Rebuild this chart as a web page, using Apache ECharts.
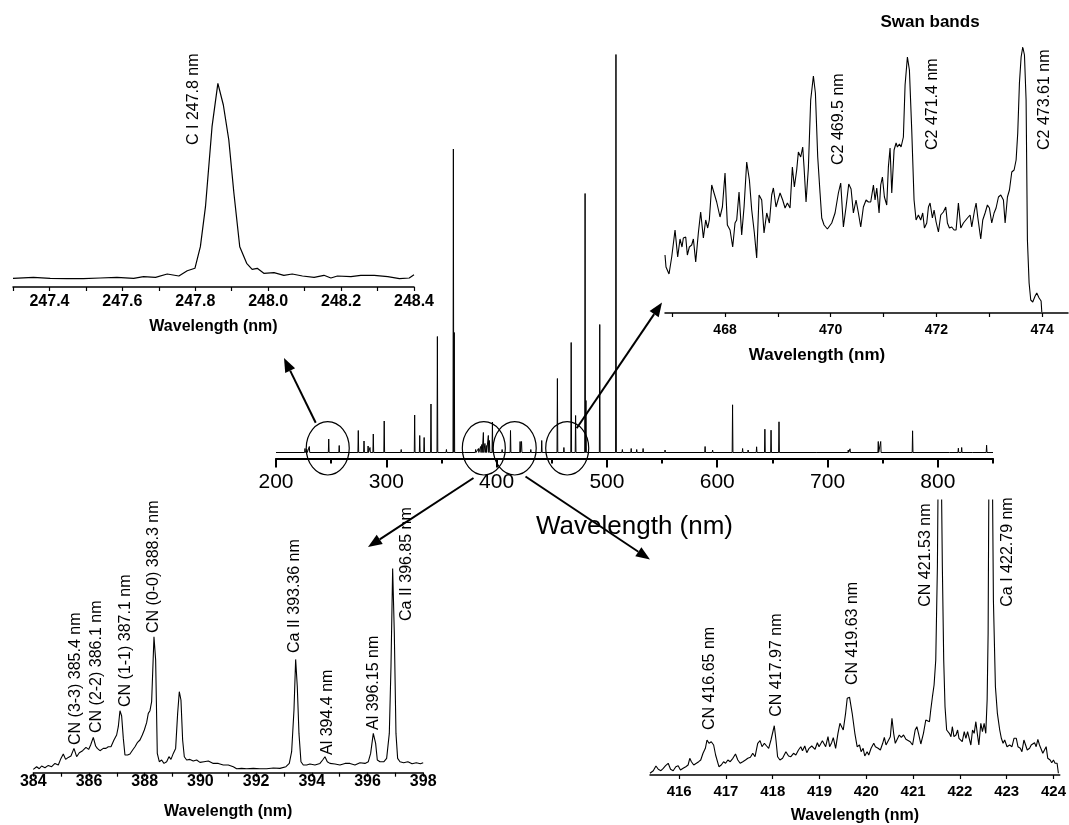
<!DOCTYPE html>
<html>
<head>
<meta charset="utf-8">
<title>LIBS spectrum with insets</title>
<script src="https://cdn.jsdelivr.net/npm/echarts@6/dist/echarts.min.js"></script>
<style>
  html, body { margin: 0; padding: 0; background: #fff; }
  #chart { width: 1069px; height: 825px; }
</style>
</head>
<body>
<div id="chart"></div>
<script>
const FONT = "'Liberation Sans', Arial, sans-serif"

// full spectrum 200-850 nm: emission lines and their height above the baseline (a.u.)
const mainPeakNm = [226.3, 228.0, 230.2, 247.8, 257.3, 274.6, 279.8, 283.5, 285.2, 288.2, 298.1, 313.5, 325.7, 330.3, 334.3, 340.5, 346.3, 354.5, 360.8, 361.6, 371.0, 381.0, 383.5, 385.5, 386.6, 388.0, 389.4, 390.6, 392.5, 393.5, 396.2, 405.0, 412.6, 421.3, 422.6, 431.0, 440.9, 455.1, 461.0, 467.6, 471.6, 480.2, 481.0, 493.5, 508.2, 514.0, 522.0, 527.0, 532.8, 552.7, 589.0, 595.8, 613.9, 623.0, 628.0, 635.7, 643.2, 648.8, 656.0, 690.0, 718.8, 720.4, 746.0, 748.2, 777.1, 811.0, 818.6, 821.6, 832.0, 844.2]
const mainPeakInt = [4, 3, 6, 13.5, 7, 22, 11.5, 6.5, 5, 18.5, 31.5, 3, 37.5, 17, 15, 48.5, 116, 3, 303.5, 120, 2, 3, 4, 6, 8, 20, 9, 7, 17, 12, 30.5, 3, 22, 11, 11, 3, 12, 74, 5, 110, 37, 259, 52, 128, 398, 3, 4, 3, 4, 2.5, 6, 2.5, 47.7, 4, 2.5, 5.7, 23.3, 22.3, 30.7, 2, 2.5, 3.7, 11, 11, 21.7, 2, 4.3, 5, 2, 7.3]
const mainBaseline = 6
const mainMajorTicks = [200, 300, 400, 500, 600, 700, 800]
const mainMinorTicks = [250, 350, 450, 550, 650, 750, 850]
// ellipses drawn round the zoomed regions (nm)
const circledNm = [246.9, 388.4, 416.4, 464.0]

// inset: C I 247.8 nm
const c1Nm = [247.300, 247.356, 247.402, 247.448, 247.493, 247.539, 247.585, 247.631, 247.658, 247.691, 247.723, 247.755, 247.778, 247.799, 247.814, 247.828, 247.846, 247.862, 247.877, 247.892, 247.906, 247.922, 247.941, 247.956, 247.970, 247.988, 248.016, 248.043, 248.066, 248.094, 248.126, 248.153, 248.172, 248.190, 248.227, 248.254, 248.291, 248.328, 248.360, 248.387, 248.400]
const c1Int = [8.7, 9.7, 8.7, 8.3, 8.3, 9, 9.7, 8.7, 10.3, 9.7, 13, 11, 16.3, 18.7, 40.3, 80.3, 160.3, 203.7, 182, 147, 93.7, 40.3, 23.7, 17.7, 18.7, 13.7, 14.3, 11.7, 13, 11, 9.7, 11.7, 9, 11, 10.3, 11.7, 11.7, 10.3, 8.3, 9, 12.3]
const c1Ticks = [247.3, 247.4, 247.5, 247.6, 247.7, 247.8, 247.9, 248.0, 248.1, 248.2, 248.3, 248.4]
const c1TickLabels = [247.4, 247.6, 247.8, 248.0, 248.2, 248.4]

// inset: Swan bands
const swanNm = [466.864, 466.883, 466.940, 466.991, 467.054, 467.104, 467.148, 467.186, 467.211, 467.256, 467.287, 467.325, 467.369, 467.401, 467.445, 467.495, 467.539, 467.590, 467.634, 467.672, 467.703, 467.748, 467.792, 467.842, 467.905, 467.950, 468.000, 468.044, 468.095, 468.145, 468.189, 468.221, 468.265, 468.315, 468.360, 468.410, 468.461, 468.505, 468.555, 468.599, 468.644, 468.694, 468.738, 468.789, 468.839, 468.883, 468.915, 468.965, 469.003, 469.041, 469.091, 469.136, 469.180, 469.230, 469.274, 469.312, 469.356, 469.388, 469.432, 469.470, 469.495, 469.533, 469.577, 469.621, 469.672, 469.710, 469.754, 469.798, 469.830, 469.874, 469.937, 470.019, 470.082, 470.145, 470.189, 470.240, 470.290, 470.341, 470.385, 470.429, 470.479, 470.524, 470.568, 470.618, 470.669, 470.713, 470.757, 470.808, 470.839, 470.871, 470.915, 470.946, 470.978, 471.016, 471.060, 471.091, 471.123, 471.155, 471.199, 471.237, 471.262, 471.300, 471.331, 471.375, 471.407, 471.451, 471.489, 471.533, 471.577, 471.615, 471.659, 471.703, 471.741, 471.773, 471.817, 471.849, 471.880, 471.924, 471.956, 471.994, 472.038, 472.082, 472.132, 472.177, 472.208, 472.246, 472.290, 472.334, 472.372, 472.416, 472.461, 472.511, 472.543, 472.587, 472.637, 472.669, 472.719, 472.751, 472.782, 472.839, 472.877, 472.921, 472.965, 473.003, 473.047, 473.091, 473.129, 473.174, 473.218, 473.268, 473.300, 473.344, 473.382, 473.426, 473.470, 473.508, 473.539, 473.571, 473.603, 473.634, 473.666, 473.697, 473.722, 473.754, 473.785, 473.823, 473.868, 473.899, 473.943, 473.981, 473.994]
const swanInt = [58, 46, 39, 56, 83, 56, 74, 66, 75, 76, 58, 66, 68, 74, 51, 80, 101, 75, 93, 85, 93, 128, 120, 111, 96, 106, 140, 88, 83, 66, 90, 93, 121, 78, 106, 151, 133, 103, 80, 55, 118, 113, 80, 100, 90, 118, 125, 106, 113, 120, 113, 105, 110, 105, 146, 126, 143, 161, 156, 166, 146, 111, 145, 213, 237, 220, 156, 120, 95, 88, 84, 90, 100, 120, 130, 86, 106, 129, 124, 100, 113, 100, 86, 106, 113, 111, 111, 128, 113, 125, 100, 128, 136, 116, 108, 146, 165, 120, 163, 170, 166, 169, 166, 176, 228, 256, 243, 183, 113, 93, 98, 93, 100, 85, 90, 106, 110, 95, 103, 91, 81, 98, 101, 106, 90, 85, 86, 83, 83, 110, 85, 90, 88, 95, 98, 86, 102, 110, 96, 74, 93, 100, 108, 105, 90, 100, 105, 116, 118, 113, 90, 116, 123, 141, 143, 153, 180, 230, 256, 266, 258, 213, 73, 30, 13, 11, 17, 20, 15, 12, 1]
const swanTicks = [467, 468, 469, 470, 471, 472, 473, 474]
const swanTickLabels = [468, 470, 472, 474]

// inset: CN violet system 384-398 nm
const cnNm = [384.000, 384.120, 384.215, 384.299, 384.419, 384.539, 384.658, 384.778, 384.898, 384.993, 385.077, 385.161, 385.257, 385.352, 385.460, 385.556, 385.652, 385.771, 385.891, 385.987, 386.059, 386.154, 386.238, 386.298, 386.394, 386.513, 386.609, 386.693, 386.789, 386.896, 386.992, 387.052, 387.112, 387.172, 387.232, 387.291, 387.387, 387.471, 387.567, 387.651, 387.734, 387.830, 387.914, 387.986, 388.069, 388.129, 388.189, 388.249, 388.333, 388.393, 388.452, 388.524, 388.608, 388.692, 388.788, 388.871, 388.943, 389.027, 389.111, 389.183, 389.242, 389.302, 389.362, 389.422, 389.506, 389.625, 389.745, 389.865, 389.984, 390.128, 390.284, 390.463, 390.643, 390.822, 391.002, 391.181, 391.301, 391.481, 391.660, 391.899, 392.139, 392.378, 392.618, 392.857, 393.072, 393.192, 393.276, 393.360, 393.420, 393.479, 393.539, 393.611, 393.695, 393.815, 393.934, 394.114, 394.293, 394.389, 394.473, 394.556, 394.652, 394.832, 395.011, 395.191, 395.370, 395.550, 395.730, 395.909, 396.029, 396.113, 396.208, 396.292, 396.352, 396.448, 396.591, 396.687, 396.783, 396.843, 396.903, 396.963, 397.022, 397.082, 397.166, 397.300, 397.450, 397.600, 397.750, 397.900, 398.000]
const cnInt = [3.3, 6, 4, 6.7, 5, 7.3, 6, 9.3, 7.7, 14.3, 18.7, 13.3, 15.3, 16.7, 24.3, 16, 20, 22, 25.3, 23.3, 27.7, 35.3, 26.7, 24.3, 22, 24.3, 24.3, 26, 26, 32.7, 37.7, 46, 62, 56.7, 34.3, 17.7, 17.7, 18.7, 22.7, 26, 30, 32.7, 37.7, 42.7, 50, 59.3, 62, 71, 136, 112.7, 19.3, 11, 12.7, 9.3, 11, 16, 13.3, 19.3, 24.3, 59.3, 81, 72.7, 32.7, 16, 12.7, 13.3, 11.7, 12.7, 10.3, 11, 11.7, 9.3, 9.3, 7.7, 7.7, 6, 4, 4.3, 4, 4.3, 4, 4, 4.7, 4.3, 6, 9.3, 21, 62.7, 113.3, 86, 39.3, 11, 7.7, 7.7, 8.7, 7.7, 9.3, 12.7, 16, 11, 9.3, 8.7, 7.7, 9.3, 9.3, 7.7, 10, 9.3, 11, 19.3, 39.3, 29.3, 12.7, 11, 11, 14.3, 39.3, 106, 204.3, 139.3, 39.3, 14.3, 11, 10, 11, 9, 10, 9, 10]
const cnTicks = [384, 385, 386, 387, 388, 389, 390, 391, 392, 393, 394, 395, 396, 397, 398]
const cnTickLabels = [384, 386, 388, 390, 392, 394, 396, 398]

// inset: CN / Ca I 415.4-424.1 nm (two strongest lines run off the top)
const caNm = [415.377, 415.447, 415.504, 415.554, 415.610, 415.660, 415.710, 415.766, 415.816, 415.872, 415.929, 415.979, 416.028, 416.085, 416.142, 416.191, 416.227, 416.262, 416.312, 416.368, 416.418, 416.461, 416.510, 416.560, 416.595, 416.638, 416.687, 416.737, 416.779, 416.815, 416.850, 416.900, 416.949, 416.992, 417.041, 417.091, 417.148, 417.204, 417.254, 417.304, 417.360, 417.417, 417.467, 417.523, 417.573, 417.622, 417.679, 417.729, 417.771, 417.821, 417.870, 417.913, 417.962, 418.012, 418.033, 418.069, 418.104, 418.154, 418.210, 418.281, 418.338, 418.388, 418.444, 418.494, 418.550, 418.600, 418.636, 418.685, 418.728, 418.777, 418.834, 418.869, 418.905, 418.954, 418.990, 419.025, 419.061, 419.096, 419.131, 419.181, 419.216, 419.259, 419.294, 419.344, 419.394, 419.436, 419.471, 419.507, 419.557, 419.592, 419.642, 419.698, 419.755, 419.804, 419.854, 419.889, 419.932, 419.967, 420.017, 420.052, 420.102, 420.159, 420.194, 420.251, 420.300, 420.350, 420.385, 420.421, 420.463, 420.513, 420.548, 420.584, 420.619, 420.655, 420.704, 420.747, 420.796, 420.846, 420.888, 420.938, 420.988, 421.044, 421.080, 421.115, 421.165, 421.221, 421.271, 421.306, 421.349, 421.377, 421.413, 421.448, 421.484, 421.519, 421.540, 421.597, 421.625, 421.654, 421.682, 421.717, 421.753, 421.774, 421.809, 421.838, 421.873, 421.916, 421.951, 421.980, 422.022, 422.050, 422.093, 422.128, 422.164, 422.199, 422.234, 422.270, 422.305, 422.341, 422.376, 422.405, 422.447, 422.482, 422.518, 422.553, 422.582, 422.603, 422.624, 422.688, 422.716, 422.759, 422.801, 422.851, 422.886, 422.922, 422.957, 423.007, 423.063, 423.113, 423.156, 423.205, 423.241, 423.290, 423.326, 423.368, 423.404, 423.439, 423.489, 423.524, 423.559, 423.595, 423.630, 423.666, 423.701, 423.737, 423.772, 423.807, 423.843, 423.878, 423.928, 423.963, 423.999, 424.034, 424.077, 424.105]
const caInt = [1.7, 4.3, 9, 5.7, 4.3, 6.7, 9.3, 11.7, 5.7, 4.3, 8.3, 9.3, 5, 6.7, 8.3, 10, 16.7, 13.3, 10, 11.7, 13.3, 15, 21.7, 26.7, 35, 31.7, 33.3, 30, 20, 21.7, 8.3, 10, 13.3, 11.7, 15, 13.3, 16.7, 21, 15, 11.7, 13.3, 15, 16.7, 17.7, 21.7, 18.3, 31.7, 34.3, 28.3, 31.7, 29, 26.7, 35, 45, 49.3, 35, 18.3, 15, 16.7, 23.3, 19, 18.3, 21.7, 20, 25, 28.3, 24.3, 29, 22.3, 26.7, 29, 31, 25.7, 32.3, 28.3, 30, 34.3, 32.3, 28.3, 38.3, 28.3, 32.3, 37.3, 26.7, 41.7, 51.7, 53.3, 45, 61.7, 76.7, 77.7, 61.7, 41.7, 28.3, 30, 23.3, 26.7, 19, 23.3, 20, 26.7, 31.7, 28.3, 26.7, 25, 31.7, 37.7, 30, 28.3, 38.3, 56.7, 41.7, 31.7, 30, 40, 37.7, 40, 35.7, 36.7, 33.3, 30, 45, 48.3, 41.7, 31, 41.7, 55, 56.7, 53.3, 65, 78.3, 90, 115, 208.3, 330, 330, 208.3, 115, 68.3, 45, 46.7, 41.7, 38.3, 48.3, 38.3, 40, 45, 36.7, 38.3, 33.3, 43.3, 36.7, 43.3, 45, 30, 45, 41.7, 53.3, 40, 30, 51.7, 43.3, 51.7, 41.7, 75, 141.7, 340, 340, 175, 88.3, 61.7, 45, 36.7, 31.7, 35, 28.3, 30, 28.3, 36.7, 36.7, 28.3, 26.7, 23.3, 35, 30, 25, 26.7, 30, 31.7, 32.3, 28.3, 35.7, 30, 28.3, 21.7, 21, 28.3, 16.7, 15, 12.3, 15, 11.7, 11.7, 1.7]
const caTicks = [416, 417, 418, 419, 420, 421, 422, 423, 424]

// line identifications: [text, nm, intensity at the foot of the text]
const c1Labels = [["C I 247.8 nm", 247.795, 142]]
const swanLabels = [["C2 469.5 nm", 470.145, 148], ["C2 471.4 nm", 471.931, 163], ["C2 473.61 nm", 474.044, 163]]
const cnLabels = [
  ["CN (3-3) 385.4 nm", 385.53, 27.7], ["CN (2-2) 386.1 nm", 386.28, 39.7],
  ["CN (1-1) 387.1 nm", 387.33, 65.7], ["CN (0-0) 388.3 nm", 388.33, 139.7],
  ["Ca II 393.36 nm", 393.40, 119.7], ["Al 394.4 nm", 394.58, 17.7],
  ["Al 396.15 nm", 396.23, 42.7], ["Ca II 396.85 nm", 397.42, 151.7],
]
const caLabels = [
  ["CN 416.65 nm", 416.653, 45], ["CN 417.97 nm", 418.083, 58.3], ["CN 419.63 nm", 419.698, 90],
  ["CN 421.53 nm", 421.258, 168.3], ["Ca I 422.79 nm", 423.029, 168.3],
]

const zip = (xs, ys) => xs.map((x, i) => [x, ys[i]])

// each line of the survey spectrum drawn as a narrow spike on the baseline
function spikes() {
  const pts = [[200, mainBaseline]]
  mainPeakNm.forEach((nm, i) => {
    pts.push([nm - 0.35, mainBaseline], [nm, mainBaseline + mainPeakInt[i]], [nm + 0.35, mainBaseline])
  })
  pts.push([850, mainBaseline])
  return pts
}

const black = "#000"
function insetX(gridIndex, min, max, ticks, labels, o) {
  return {
    type: "value", gridIndex, min, max,
    axisLine: { lineStyle: { color: black, width: 1.5 } },
    axisTick: { customValues: ticks, length: 4, lineStyle: { color: black, width: 1.2 } },
    axisLabel: {
      customValues: labels, margin: o.margin, fontSize: o.fontSize, fontWeight: "bold",
      color: black, fontFamily: FONT, formatter: o.formatter || (v => String(v)),
    },
    splitLine: { show: false },
    name: o.name === false ? "" : "Wavelength (nm)",
    nameLocation: "middle", nameGap: o.nameGap,
    nameTextStyle: { fontSize: 16, fontWeight: "bold", color: black, fontFamily: FONT },
  }
}
const hiddenY = (gridIndex, max) => ({ type: "value", gridIndex, min: 0, max, show: false })
const lineSeries = (x, y, data, w) => ({
  type: "line", xAxisIndex: x, yAxisIndex: y, data, symbol: "none",
  lineStyle: { color: black, width: w || 1.1 }, animation: false, silent: true,
})

const chart = echarts.init(document.getElementById("chart"))
chart.setOption({
  backgroundColor: "#fff",
  animation: false,
  grid: [
    { left: 276, top: 40, width: 717, height: 418.5 },   // survey spectrum
    { left: 13, top: 60, width: 401, height: 227 },      // C I
    { left: 665, top: 20, width: 403, height: 293 },     // Swan
    { left: 33.3, top: 492.7, width: 389.9, height: 280 }, // CN 384-398
    { left: 650, top: 500, width: 412, height: 275 },    // 415-424
  ],
  xAxis: [
    {
      type: "value", gridIndex: 0, min: 200, max: 850,
      axisLine: { lineStyle: { color: black, width: 2 } },
      axisTick: { customValues: mainMajorTicks, length: 9, lineStyle: { color: black, width: 2 } },
      axisLabel: { customValues: mainMajorTicks, margin: 13, fontSize: 21, color: black, fontFamily: FONT },
      splitLine: { show: false },
      name: "Wavelength (nm)", nameLocation: "middle", nameGap: 55,
      nameTextStyle: { fontSize: 26, color: black, fontFamily: FONT },
    },
    {
      type: "value", gridIndex: 0, min: 200, max: 850, position: "bottom",
      axisLine: { show: false },
      axisTick: { customValues: mainMinorTicks, length: 5, lineStyle: { color: black, width: 2 } },
      axisLabel: { show: false }, splitLine: { show: false },
    },
    insetX(1, 247.3, 248.4, c1Ticks, c1TickLabels, { margin: 7, fontSize: 16, nameGap: 32, formatter: v => v.toFixed(1) }),
    insetX(2, 466.864, 474.49, swanTicks, swanTickLabels, { margin: 10, fontSize: 14, name: false }),
    insetX(3, 384, 398, cnTicks, cnTickLabels, { margin: 1, fontSize: 16, nameGap: 31 }),
    insetX(4, 415.377, 424.134, caTicks, caTicks, { margin: 9, fontSize: 15, nameGap: 33 }),
  ],
  yAxis: [hiddenY(0, 418.5), hiddenY(1, 227), hiddenY(2, 293), hiddenY(3, 280), hiddenY(4, 275)],
  series: [
    lineSeries(0, 0, spikes(), 1),
    lineSeries(2, 1, zip(c1Nm, c1Int), 1.2),
    lineSeries(3, 2, zip(swanNm, swanInt), 1.1),
    lineSeries(4, 3, zip(cnNm, cnInt), 1.1),
    lineSeries(5, 4, zip(caNm, caInt), 1.1),
  ],
})

// annotations: rotated line names, ellipses, arrows
function vText(text, p) {
  return {
    type: "text", x: p[0], y: p[1], rotation: Math.PI / 2, silent: true,
    style: { text, fontSize: 16, fontFamily: FONT, fill: black, textAlign: "left", textVerticalAlign: "middle" },
  }
}
function arrow(x1, y1, x2, y2) {
  const len = Math.hypot(x2 - x1, y2 - y1)
  const ux = (x2 - x1) / len, uy = (y2 - y1) / len
  const bx = x2 - ux * 14, by = y2 - uy * 14
  return [
    { type: "line", silent: true, shape: { x1, y1, x2: bx, y2: by }, style: { stroke: black, lineWidth: 2 } },
    { type: "polygon", silent: true, shape: { points: [[x2, y2], [bx - uy * 5.5, by + ux * 5.5], [bx + uy * 5.5, by - ux * 5.5]] }, style: { fill: black } },
  ]
}
const toPx = (grid, nm, v) => chart.convertToPixel({ gridIndex: grid }, [nm, v])

const graphic = []
c1Labels.forEach(l => graphic.push(vText(l[0], toPx(1, l[1], l[2]))))
swanLabels.forEach(l => graphic.push(vText(l[0], toPx(2, l[1], l[2]))))
cnLabels.forEach(l => graphic.push(vText(l[0], toPx(3, l[1], l[2]))))
caLabels.forEach(l => graphic.push(vText(l[0], toPx(4, l[1], l[2]))))
circledNm.forEach(nm => {
  const c = toPx(0, nm, 10.2)
  graphic.push({ type: "ellipse", silent: true, shape: { cx: c[0], cy: c[1], rx: 21.5, ry: 26.7 }, style: { fill: "none", stroke: black, lineWidth: 1.2 } })
})
graphic.push(...arrow(315.7, 422.7, 284, 358))
graphic.push(...arrow(473.5, 478, 368, 547))
graphic.push(...arrow(525.5, 476.5, 650, 559.5))
graphic.push(...arrow(576.7, 428.3, 662, 302.5))
graphic.push({
  type: "text", x: 930, y: 22, silent: true,
  style: { text: "Swan bands", fontSize: 17, fontWeight: "bold", fontFamily: FONT, fill: black, textAlign: "center", textVerticalAlign: "middle" },
})
graphic.push({
  type: "text", x: 817, y: 355, silent: true,
  style: { text: "Wavelength (nm)", fontSize: 17, fontWeight: "bold", fontFamily: FONT, fill: black, textAlign: "center", textVerticalAlign: "middle" },
})
chart.setOption({ graphic })
</script>
</body>
</html>
